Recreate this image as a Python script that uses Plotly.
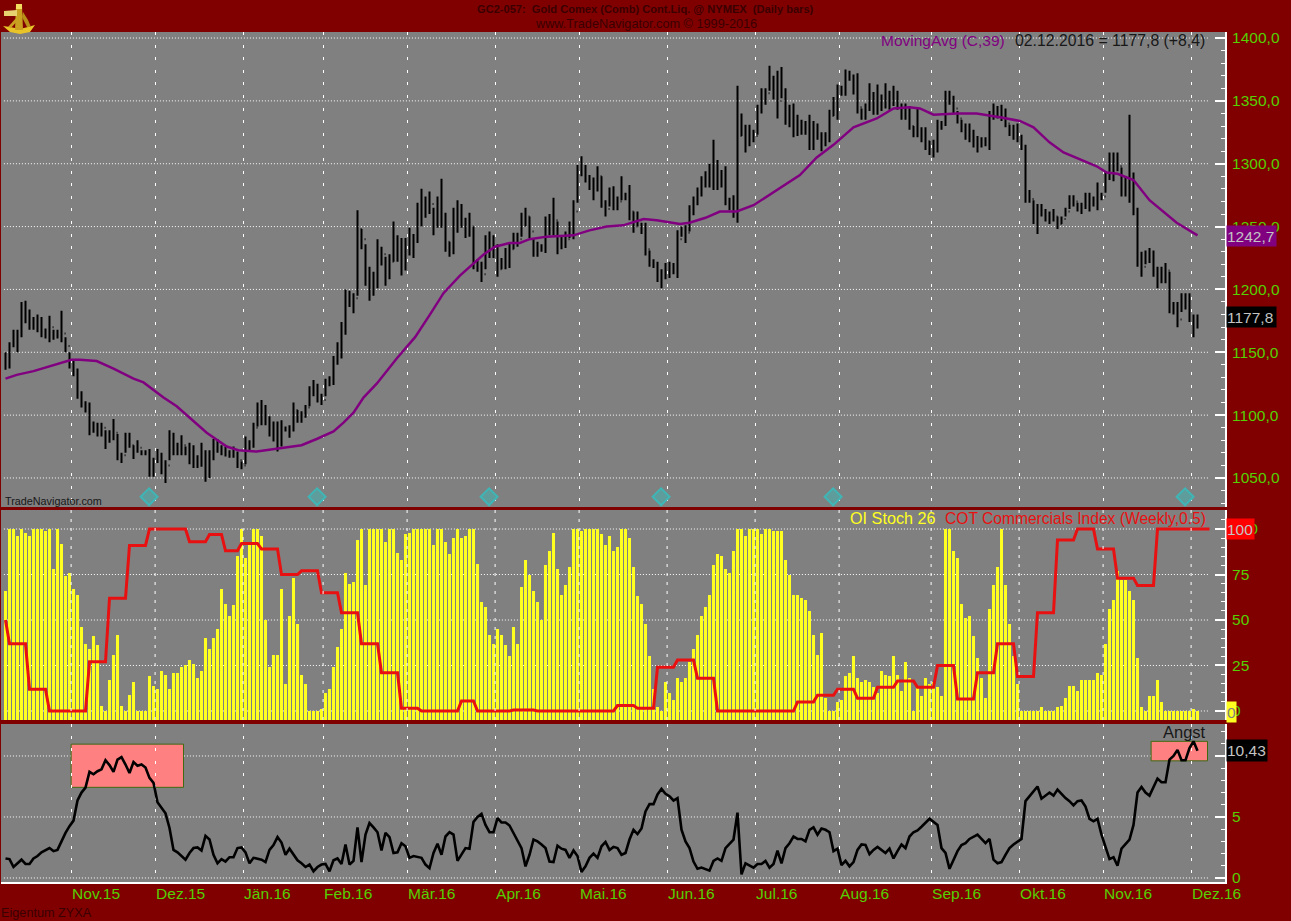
import plotly.graph_objects as go

W, H = 1291, 921

# ---------- price pane ----------
high = [1150,1158,1168,1168,1190,1191,1184,1178,1180,1178,
        1169,1179,1168,1168,1183,1162,1150,1143,1137,1119,
        1111,1110,1095,1094,1094,1088,1088,1097,1085,1070,
        1086,1086,1076,1080,1072,1072,1073,1066,1073,1070,
        1064,1088,1086,1078,1084,1075,1078,1076,1068,1078,
        1072,1072,1081,1081,1076,1075,1072,1075,1071,1063,
        1083,1080,1094,1110,1112,1108,1099,1095,1095,1096,
        1091,1092,1110,1104,1103,1108,1123,1128,1125,1117,
        1129,1131,1147,1158,1174,1200,1199,1197,1263,1248,
        1236,1218,1214,1240,1234,1226,1228,1254,1243,1241,
        1241,1249,1244,1269,1280,1274,1278,1265,1274,1288,
        1261,1238,1265,1271,1268,1257,1261,1250,1224,1222,
        1243,1246,1243,1236,1225,1233,1237,1245,1245,1261,
        1265,1258,1241,1238,1236,1258,1260,1273,1254,1243,
        1246,1254,1271,1299,1306,1299,1291,1289,1298,1290,
        1271,1281,1282,1274,1290,1277,1283,1262,1262,1253,
        1253,1231,1224,1222,1216,1221,1222,1221,1247,1250,
        1251,1267,1274,1281,1290,1294,1300,1319,1303,1295,
        1298,1273,1275,1362,1340,1331,1331,1327,1347,1360,
        1360,1378,1370,1374,1377,1360,1347,1348,1339,1335,
        1334,1339,1334,1332,1325,1325,1343,1353,1363,1362,
        1375,1374,1371,1372,1344,1348,1364,1357,1363,1355,
        1364,1358,1362,1358,1348,1348,1346,1330,1344,1329,
        1329,1318,1319,1335,1334,1358,1358,1354,1342,1335,
        1332,1332,1327,1322,1321,1321,1342,1348,1346,1347,
        1344,1331,1331,1332,1323,1315,1279,1271,1268,1268,
        1264,1262,1264,1258,1258,1265,1275,1275,1269,1269,
        1277,1277,1274,1285,1277,1294,1309,1309,1309,1297,
        1290,1339,1293,1265,1230,1231,1233,1231,1218,1218,
        1221,1214,1190,1190,1197,1197,1197,1180,1180]
low = [1136,1137,1154,1150,1162,1173,1168,1168,1166,1162,
       1161,1158,1160,1161,1158,1150,1137,1131,1113,1106,
       1102,1084,1086,1083,1083,1073,1078,1080,1064,1062,
       1070,1074,1065,1070,1068,1068,1051,1051,1062,1053,
       1046,1064,1068,1068,1068,1068,1061,1058,1058,1059,
       1047,1050,1064,1070,1068,1067,1066,1066,1058,1057,
       1061,1072,1074,1091,1092,1092,1083,1079,1071,1075,
       1087,1082,1087,1094,1094,1098,1107,1115,1110,1108,
       1115,1123,1124,1140,1145,1164,1186,1181,1195,1232,
       1203,1191,1195,1201,1219,1203,1208,1222,1222,1211,
       1215,1227,1225,1237,1250,1257,1260,1243,1249,1249,
       1230,1226,1228,1245,1249,1241,1242,1216,1214,1206,
       1216,1225,1225,1210,1216,1216,1217,1232,1234,1242,
       1250,1241,1226,1226,1230,1229,1243,1243,1228,1232,
       1233,1241,1240,1269,1290,1285,1279,1271,1278,1265,
       1258,1266,1263,1263,1271,1271,1255,1245,1250,1244,
       1227,1218,1217,1206,1201,1208,1209,1212,1209,1242,
       1237,1246,1259,1267,1274,1281,1281,1279,1279,1281,
       1267,1263,1257,1253,1322,1309,1314,1317,1323,1340,
       1347,1358,1351,1336,1352,1331,1329,1321,1322,1323,
       1323,1311,1311,1319,1310,1314,1317,1338,1335,1354,
       1354,1366,1355,1340,1335,1335,1342,1339,1339,1342,
       1344,1343,1346,1343,1335,1335,1327,1321,1321,1317,
       1311,1307,1305,1309,1327,1330,1347,1340,1332,1325,
       1319,1317,1313,1309,1313,1314,1311,1335,1336,1334,
       1329,1322,1319,1317,1311,1269,1269,1252,1244,1258,
       1254,1252,1254,1248,1252,1258,1264,1266,1262,1260,
       1264,1262,1266,1263,1271,1277,1287,1286,1294,1274,
       1274,1269,1259,1218,1210,1220,1221,1210,1201,1205,
       1205,1181,1180,1170,1182,1184,1174,1162,1169]
close = [1146,1155,1158,1165,1180,1178,1175,1172,1170,1168,
         1165,1170,1165,1166,1165,1155,1142,1136,1118,1110,
         1108,1090,1091,1088,1090,1082,1084,1086,1068,1068,
         1080,1076,1072,1074,1070,1070,1058,1064,1068,1058,
         1060,1084,1074,1072,1076,1072,1070,1062,1064,1066,
         1054,1068,1076,1072,1072,1070,1068,1070,1064,1060,
         1076,1076,1090,1106,1100,1098,1090,1086,1085,1090,
         1089,1088,1104,1098,1100,1106,1118,1122,1114,1112,
         1125,1126,1143,1154,1170,1198,1190,1193,1248,1240,
         1212,1205,1208,1230,1228,1210,1222,1235,1238,1226,
         1234,1232,1240,1262,1270,1266,1268,1258,1268,1255,
         1238,1232,1255,1262,1255,1248,1250,1222,1220,1212,
         1238,1235,1230,1216,1222,1226,1232,1240,1240,1255,
         1258,1246,1232,1234,1232,1250,1250,1255,1236,1238,
         1240,1246,1262,1292,1296,1290,1284,1280,1290,1270,
         1264,1274,1270,1270,1276,1274,1262,1250,1255,1250,
         1232,1222,1220,1214,1210,1214,1216,1214,1240,1246,
         1245,1262,1268,1275,1284,1290,1292,1295,1290,1290,
         1270,1268,1262,1322,1326,1318,1322,1322,1342,1348,
         1356,1366,1360,1350,1358,1338,1338,1326,1332,1330,
         1328,1318,1325,1322,1316,1322,1338,1344,1358,1358,
         1368,1370,1360,1345,1340,1345,1350,1350,1345,1350,
         1352,1350,1352,1345,1340,1342,1330,1326,1328,1322,
         1318,1312,1310,1328,1332,1352,1352,1344,1336,1330,
         1326,1322,1318,1315,1318,1318,1338,1342,1340,1340,
         1332,1326,1326,1322,1314,1275,1272,1256,1262,1262,
         1258,1256,1258,1252,1256,1262,1270,1270,1266,1265,
         1272,1268,1268,1275,1274,1288,1296,1298,1298,1280,
         1284,1275,1262,1225,1218,1226,1228,1215,1210,1212,
         1215,1186,1185,1176,1190,1190,1178,1170,1177.8]

ma_idx = [0,2.8,7,11,14,16.5,18.6,22.8,27,32,34.5,39.5,42.8,46.1,50.3,55.3,58.2,62.8,69.5,74,
          77.8,82,84.5,87,89.5,92.8,97.8,102.4,106.1,109.5,113.6,117,119.6,122.4,126,128.6,131,135.3,142,
          146,150.3,154.4,159.5,162.8,168.6,171,175,178.6,182.8,187,192.8,198.6,202.8,207,212,217.8,222,226,228.6,
          232,237.8,242.8,248.6,253.6,257,261,264.5,269.5,272.8,275.3,278,282,286,292.8,298]
ma_val = [1129,1132,1135,1139,1142,1144,1144,1143,1137,1129,1126,1114,1107,1098,1086,1075,1072,1071,1074,1076,
          1081,1087,1094,1102,1114,1125,1145,1162,1180,1197,1211,1221,1228,1234,1237,1237,1240,1242,1243,
          1247,1250,1251,1256,1255,1252,1253,1257,1262,1262,1267,1279,1291,1305,1315,1329,1336,1344,1345,1344,
          1339,1340,1340,1337,1334,1329,1317,1309,1302,1298,1293,1292,1287,1271,1253,1243]

diamond_idx = [35.9,77.9,120.9,163.9,206.9,294.9]
diamond_level = [1035,1035,1035,1035,1035,1035]

# ---------- OI stochastic + COT pane ----------
oi_stoch = [66,100,100,96,100,98,96,100,100,100,
            99,100,78,100,92,74,76,67,64,46,
            37,34,41,36,3,0,17,31,42,3,
            0,9,16,0,0,0,19,14,12,22,
            20,12,21,21,24,25,28,26,18,22,
            40,34,40,45,67,59,52,58,85,100,
            84,92,100,100,96,50,24,31,31,67,
            15,52,73,48,20,15,0,0,0,1,
            10,12,24,35,45,76,70,71,94,100,
            69,100,100,100,100,93,100,100,87,83,
            97,98,100,100,100,100,100,91,100,100,
            93,86,95,100,95,96,100,100,81,60,
            57,42,37,45,42,36,30,46,37,68,
            83,75,66,60,50,80,88,98,78,64,
            69,79,100,100,99,100,100,100,100,97,
            91,96,88,90,100,100,95,79,63,59,
            48,30,12,2,0,16,10,6,18,16,
            18,27,34,42,52,57,64,80,86,85,
            78,76,88,100,100,96,100,100,100,97,
            100,100,99,99,99,83,75,64,64,62,
            61,55,42,31,43,7,0,0,5,6,
            19,21,30,18,16,17,16,13,10,22,
            20,19,30,20,11,27,18,0,13,8,
            18,15,16,13,8,100,100,88,84,59,
            51,52,41,29,18,7,56,69,79,100,
            69,48,30,15,0,0,0,0,0,2,
            0,0,0,2,3,7,14,14,11,17,
            17,17,17,21,20,37,56,61,77,72,
            72,66,61,29,2,0,8,8,17,5,
            0,0,0,0,0,0,0,1,0]
oi_floor = -5

cot_idx = [0,1,6,11,21,26,31,36,46,51,55,59,64,69,74,79,84,89,94,99,104,114,118,127,133,153,158,163,168,173,178,198,203,208,213,218,223,228,233,238,243,248,253,258,263,268,273,278,283,288,302]
cot_val = [50,37,12,0,27,62,91,100,93,97,88,92,89,75,77,65,54,37,21,1.5,0,5.5,0,0.5,0,3,1.5,24,28,18,0,5,8.6,12,7,13,16.5,13,25,6.6,21,37,19,54,94,100,89,73,69,100,100]

# ---------- fear index pane ----------
angst = [1.6,1.55,0.9,1.2,1.5,1.15,1.15,1.6,1.8,2.1,
         2.25,2.45,2.2,2.3,3.0,3.7,4.25,4.7,6.35,7.0,
         7.4,8.7,8.5,8.75,8.9,9.65,9.25,8.7,9.7,9.9,
         9.3,8.6,9.5,9.2,9.3,9.05,8.2,7.8,6.2,5.75,
         5.3,4.1,2.3,2.1,1.8,1.5,2.05,2.45,2.5,2.25,
         3.45,3.15,1.9,1.2,1.55,1.35,1.7,1.7,2.45,2.5,
         2.1,1.2,1.65,1.6,1.5,1.3,2.3,2.7,3.35,2.9,
         1.9,2.4,1.9,1.45,1.2,0.9,1.1,0.55,0.9,1.1,
         1.15,0.55,1.45,1.6,1.15,2.75,1.1,1.4,4.15,1.3,
         3.55,4.5,4.15,3.75,2.25,3.7,3.35,2.05,2.1,2.85,
         2.6,1.65,1.8,1.7,1.65,1.1,0.8,2.05,2.8,1.9,
         3.4,3.75,3.55,1.4,1.9,2.45,2.4,4.6,5.0,5.25,
         4.35,3.75,3.75,4.9,4.55,4.55,4.3,3.7,3.0,2.45,
         0.95,1.9,3.15,3.0,2.75,2.45,1.35,1.3,2.65,2.4,
         2.3,1.65,2.25,1.8,0.5,0.95,1.65,2.0,1.65,2.6,
         2.95,2.3,2.55,2.45,1.9,2.05,3.15,3.95,3.6,4.05,
         5.45,6.05,6.05,6.85,7.3,6.9,6.7,6.35,6.55,3.95,
         3.0,2.45,1.35,0.75,0.85,0.75,0.6,1.4,1.6,1.4,
         2.45,2.8,3.15,5.35,0.3,1.2,1.05,0.85,1.15,1.15,
         1.4,0.85,1.15,2.25,1.2,2.45,2.85,3.4,3.2,3.2,
         3.0,3.95,4.15,3.55,4.05,3.95,3.75,2.2,2.4,1.05,
         1.4,0.95,1.3,2.3,2.75,2.7,1.95,2.3,2.55,2.3,
         2.05,2.4,1.6,2.2,2.75,2.45,3.4,3.75,3.9,4.2,
         4.5,4.85,4.6,4.35,2.45,2.05,0.75,1.5,2.2,2.7,
         2.85,3.2,3.4,3.55,3.2,2.85,3.2,1.5,1.2,1.3,
         1.9,2.45,2.75,3.0,3.2,6.3,6.7,7.1,7.5,6.5,
         6.75,7.0,6.75,7.25,6.9,6.55,6.3,5.95,6.3,6.35,
         5.85,4.85,4.65,4.85,3.55,2.6,1.55,1.7,1.0,2.4,
         2.75,3.15,4.35,7.0,7.45,7.0,6.75,7.4,8.15,7.85,
         7.85,9.7,10.0,10.5,9.65,9.65,10.65,11.2,10.43]

# ---------- axis labels ----------
month_idx = [16.4,37.4,59.4,79.4,100.4,122.4,143.4,165.4,187.4,208.4,231.4,253.4,274.4,296.4]
month_lbl = ["Nov.15","Dez.15","Jän.16","Feb.16","Mär.16","Apr.16","Mai.16","Jun.16","Jul.16","Aug.16","Sep.16","Okt.16","Nov.16","Dez.16"]
price_ticks = [1050,1100,1150,1200,1250,1300,1350,1400]
price_lbl = ["1050,0","1100,0","1150,0","1200,0","1250,0","1300,0","1350,0","1400,0"]
oi_ticks = [0,25,50,75,100]
angst_ticks = [0,5,10]

RED = "#800000"; GREY = "#808080"; GREEN = "#55d000"; FONT = "Liberation Sans"
bars = list(range(len(high)))
px_x = lambda px: px / W
px_y = lambda py: 1 - py / H

# open is taken as the previous close (opens are barely readable at this scale)
open_ = [close[0]] + close[:-1]

fig = go.Figure()
fig.add_trace(go.Ohlc(x=bars, open=open_, high=high, low=low, close=close, xaxis="x", yaxis="y",
                      increasing=dict(line=dict(color="#000000", width=2)),
                      decreasing=dict(line=dict(color="#000000", width=2)),
                      tickwidth=0.22, hoverinfo="skip", showlegend=False))
fig.add_trace(go.Scatter(x=ma_idx, y=ma_val, mode="lines", line=dict(color="#800080", width=2.5),
                         xaxis="x", yaxis="y", hoverinfo="skip", showlegend=False))
fig.add_trace(go.Scatter(x=diamond_idx, y=diamond_level, mode="markers",
                         marker=dict(symbol="diamond", size=13, color="#5f9c9c",
                                     line=dict(color="#3fb5b5", width=2)),
                         xaxis="x", yaxis="y", hoverinfo="skip", showlegend=False))

fig.add_trace(go.Bar(x=bars, y=[v - oi_floor for v in oi_stoch], base=oi_floor, width=0.75,
                     marker=dict(color="#ffff20", line=dict(width=0)),
                     xaxis="x2", yaxis="y2", hoverinfo="skip", showlegend=False))
cot_x, cot_y = [], []
for k, start in enumerate(cot_idx[:-1]):
    cot_x += [start, cot_idx[k + 1] - 1]
    cot_y += [cot_val[k], cot_val[k]]
fig.add_trace(go.Scatter(x=cot_x, y=cot_y, mode="lines", line=dict(color="#e81010", width=3),
                         xaxis="x2", yaxis="y2", hoverinfo="skip", showlegend=False))

fig.add_trace(go.Scatter(x=bars, y=angst, mode="lines", line=dict(color="#000000", width=2.6),
                         xaxis="x3", yaxis="y3", hoverinfo="skip", showlegend=False))

xr = [-1.125, 304.875]
xdom = [px_x(1), px_x(1225)]
xbase = dict(range=xr, domain=xdom, showline=False, zeroline=False, showticklabels=False, ticks="",
             tickmode="array", tickvals=month_idx, showgrid=True, gridcolor="#ffffff", gridwidth=1)


def yaxis(dom, rng, ticks, text, dminor, anchor):
    return dict(domain=[px_y(dom[1]), px_y(dom[0])], range=rng, side="right", anchor=anchor,
                tickmode="array", tickvals=ticks, ticktext=text, ticks="inside", ticklen=10,
                tickcolor="#ffffff", tickwidth=2,
                minor=dict(ticks="inside", ticklen=4, dtick=dminor, tickcolor="#ffffff", tickwidth=1, showgrid=False),
                showgrid=False, zeroline=False, showline=True, linecolor="#ffffff", linewidth=2,
                tickfont=dict(family=FONT, size=15.5, color=GREEN), ticklabelstandoff=2)


shapes = []
# horizontal dotted grid, stopping short of the pane edges
for axis, vals in (("y", price_ticks), ("y2", oi_ticks), ("y3", angst_ticks)):
    for v in vals:
        shapes.append(dict(type="line", xref="x", yref=axis, x0=-0.4, x1=301, y0=v, y1=v, layer="below",
                           line=dict(color="#ffffff", width=1, dash="1px,2px")))
# vertical dashes stay visible on top of the yellow bars
for m in month_idx:
    shapes.append(dict(type="line", xref="x2", yref="y2 domain", x0=m, x1=m, y0=0, y1=1, layer="above",
                       line=dict(color="#ffffff", width=1, dash="3px,6px")))
# highlighted boxes in the fear pane
for a, b, c, d in ((16.4, 44.5, 7.43, 10.97), (286.4, 300.5, 9.6, 11.2)):
    shapes.append(dict(type="rect", xref="x3", yref="y3", x0=a, x1=b, y0=c, y1=d, layer="below",
                       fillcolor="#ff8080", line=dict(color="#3f6a10", width=1)))
# sextant logo
gold = "#e8c428"
for path, fill in (("M 3,26 L 10,32 L 20,34 L 30,32 L 35,25 L 28,27 L 20,29 L 10,27 Z", gold),
                   ("M 16,5 L 22,5 L 23,30 L 15,30 Z", "#c9a020"),
                   ("M 4,11 L 17,10 L 17,16 L 4,16 Z", "#e6d070"),
                   ("M 8,27 L 17,17 L 19,19 L 11,28 Z", "#c9a020"),
                   ("M 23,12 L 28,20 L 31,27 L 27,27 L 22,17 Z", "#b89018"),
                   ("M 16,4 L 22,4 L 22,9 L 16,9 Z", "#f2dc60")):
    pts = path.replace("M", "").replace("L", "").replace("Z", "").split()
    conv = []
    for i, p in enumerate(pts):
        xv, yv = p.split(",")
        conv.append(("M" if i == 0 else "L") + f"{px_x(float(xv)):.5f},{px_y(float(yv)):.5f}")
    shapes.append(dict(type="path", xref="paper", yref="paper", path=" ".join(conv) + " Z",
                       fillcolor=fill, line=dict(width=0), layer="above"))

anns = []


def txt(t, x, y, size, color, anchor="left", bold=False):
    anns.append(dict(text=f"<b>{t}</b>" if bold else t, xref="paper", yref="paper", x=px_x(x), y=px_y(y),
                     xanchor=anchor, yanchor="middle", showarrow=False,
                     font=dict(family=FONT, size=size, color=color)))


def tag(t, axis, value, width, height, bg, color="#c4c4c4"):
    anns.append(dict(text=t, xref="paper", yref=axis, x=px_x(1226), y=value, xanchor="left", yanchor="middle",
                     showarrow=False, width=width, height=height, bgcolor=bg, borderpad=0, align="left",
                     font=dict(family=FONT, size=15.5, color=color)))


txt("GC2-057:  Gold Comex (Comb) Cont.Liq. @ NYMEX  (Daily bars)", 645.5, 9, 11.1, "#3a0000", "center", True)
txt("www.TradeNavigator.com © 1999-2016", 646, 24, 12.7, "#3a0000", "center")
txt("MovingAvg (C,39)", 879, 40, 15.5, "#800080")
txt("02.12.2016 = 1177,8 (+8,4)", 1013, 40, 15.8, "#181818")
txt("TradeNavigator.com", 3, 501, 10.8, "#181818")
txt("OI Stoch 26", 848, 518, 16.2, "#ffff20")
txt("COT Commercials Index (Weekly,0.5)", 943, 518, 15.6, "#e81010")
txt("Angst", 1161, 732, 16.5, "#181818")
txt("Eigentum ZYXA", -1, 913, 12.7, "#3a0000")
tag("1242,7", "y", 1242.7, 49, 20, "#800080")
tag("1177,8", "y", 1177.8, 49, 20, "#000000")
tag("100", "y2", 100, 27, 20, "#ff0000")
tag("0", "y2", -0.8, 9, 20, "#ffff20", "#808080")
tag("10,43", "y3", 10.43, 40, 21, "#000000")

fig.update_layout(
    width=W, height=H, margin=dict(l=0, r=0, t=0, b=0, autoexpand=False), autosize=False,
    paper_bgcolor=RED, plot_bgcolor=GREY, showlegend=False, bargap=0,
    font=dict(family=FONT),
    xaxis=dict(xbase, griddash="3px,9.6px", anchor="y", rangeslider=dict(visible=False)),
    xaxis2=dict(xbase, showgrid=False, anchor="y2", matches="x"),
    xaxis3=dict(xbase, griddash="3px,9.2px", anchor="y3", matches="x", showline=True, linecolor="#ffffff",
                linewidth=2, showticklabels=True, ticktext=month_lbl, ticklabelposition="outside right",
                ticklabelstandoff=-4, tickfont=dict(family=FONT, size=15.5, color=GREEN)),
    yaxis=yaxis((32, 507), [1026.9, 1404.8], price_ticks, price_lbl, 10, "x"),
    yaxis2=yaxis((510, 720), [-4.95, 110.44], oi_ticks, [str(v) for v in oi_ticks], 5, "x2"),
    yaxis3=yaxis((724, 882), [-0.33, 12.62], angst_ticks, [str(v) for v in angst_ticks], 1, "x3"),
    shapes=shapes, annotations=anns,
)
fig.write_html("out.html", config=dict(displayModeBar=False),
               post_script="document.body.style.margin='0';document.documentElement.style.overflow='hidden';")
